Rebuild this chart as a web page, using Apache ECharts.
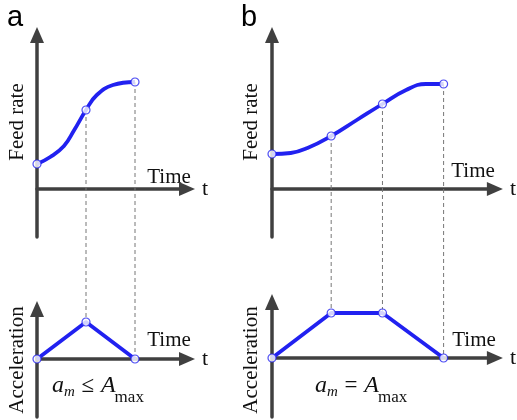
<!DOCTYPE html>
<html><head><meta charset="utf-8">
<script src="https://cdn.jsdelivr.net/npm/echarts@6/dist/echarts.min.js"></script>
<style>html,body{margin:0;padding:0;background:#fff}#c{width:517px;height:420px}</style>
</head><body><div id="c"></div>
<script>
// ---- data (arbitrary units) ----
const feedRateA = [[0,2.5],[0.27,3.2],[0.55,4.3],[0.76,5.9],[1,7.9],[1.22,9.4],[1.55,10.4],[2,10.7]];
const feedKeyA  = [[0,2.5],[1,7.9],[2,10.7]];
const accelA    = [[0,0],[1,3.7],[2,0]];
const feedRateB = [[0,3.5],[1.9,3.6],[3.6,4.1],[6.0,5.3],[8.6,6.9],[11.2,8.5],[13.6,9.9],[15.6,10.5],[17.4,10.5]];
const feedKeyB  = [[0,3.5],[6,5.3],[11.2,8.5],[17.4,10.5]];
const accelB    = [[0,0],[6,4.5],[11.2,4.5],[17.4,0]];
const panelLabels = ['a','b'];
const yNames = ['Feed rate','Acceleration'];
const xName = 't';
const timeLabel = 'Time';
const relA = ['a','m',' \u2264 ','A','max'];
const relB = ['a','m',' = ','A','max'];

const BLUE = '#2121f0';
const AX = '#404040';
const serif = '"Liberation Serif", "DejaVu Serif", serif';

const chart = echarts.init(document.getElementById('c'), null, {renderer:'canvas'});

const grids = [
  {left:37,  top:35,  width:150, height:202},
  {left:37,  top:309, width:150, height:108},
  {left:272, top:35,  width:226, height:202},
  {left:272, top:302, width:226, height:115}
];
const xRanges = [[0,150/49],[0,150/49],[0,22.6],[0,22.6]];
const yRanges = [[-4.8,15.4],[-5.8,5.0],[-4.8,15.4],[-5.9,5.6]];

function axisLine(){ return {show:true, onZero:true, symbol:['none','triangle'], symbolSize:[14,16], lineStyle:{color:AX,width:3.5}}; }

const xAxis = grids.map((g,i)=>({
  type:'value', gridIndex:i, min:xRanges[i][0], max:xRanges[i][1],
  axisLine:axisLine(), axisTick:{show:false}, axisLabel:{show:false}, splitLine:{show:false},
  name:xName, nameLocation:'end', nameGap:15,
  nameTextStyle:{fontFamily:serif, fontSize:22, color:'#111'}
}));
const yAxis = grids.map((g,i)=>({
  type:'value', gridIndex:i, min:yRanges[i][0], max:yRanges[i][1],
  axisLine:axisLine(), axisTick:{show:false}, axisLabel:{show:false}, splitLine:{show:false}
}));

function curve(data, gi){ return {type:'line', xAxisIndex:gi, yAxisIndex:gi, data, smooth:0.45, symbol:'none', lineStyle:{color:BLUE,width:3.8}, z:3}; }
function poly(data, gi){ return {type:'line', xAxisIndex:gi, yAxisIndex:gi, data, symbol:'none', lineStyle:{color:BLUE,width:3.8}, z:3}; }
function pts(data, gi){ return {type:'scatter', xAxisIndex:gi, yAxisIndex:gi, data, symbol:'circle', symbolSize:8, itemStyle:{color:'#fff',borderColor:BLUE,borderWidth:1.2}, z:5}; }

const series = [
  curve(feedRateA,0), pts(feedKeyA,0),
  poly(accelA,1), pts(accelA,1),
  curve(feedRateB,2), pts(feedKeyB,2),
  poly(accelB,3), pts(accelB,3)
];

function txt(x,y,text,size,extra){ return Object.assign({type:'text', x, y, style:{text, fontFamily:serif, fontSize:size, fill:'#111', align:'center', verticalAlign:'middle'}}, extra||{}); }

// math-style label: pieces laid out left to right with measured widths
const mctx = document.createElement('canvas').getContext('2d');
const mathStyle = [
  {size:24, italic:true,  dy:0, kern:0},
  {size:15, italic:true,  dy:3, kern:0},
  {size:23, italic:false, dy:0, kern:1},
  {size:24, italic:true,  dy:0, kern:1},
  {size:17, italic:false, dy:9, kern:-1}
];
function mathLabel(x0, base, parts){
  const out = []; let x = x0;
  parts.forEach((t,i)=>{
    const s = mathStyle[i];
    const font = (s.italic?'italic ':'') + s.size + 'px ' + serif;
    mctx.font = font;
    x += s.kern;
    out.push({type:'text', x, y: base + s.dy - 0.33*s.size,
      style:{text:t, fontFamily:serif, fontStyle:s.italic?'italic':'normal', fontSize:s.size, fill:'#111', align:'left', verticalAlign:'middle'}});
    x += mctx.measureText(t).width;
  });
  return out;
}

const baseGraphics = [
  {type:'text', x:7, y:18, style:{text:panelLabels[0], fontFamily:'"Liberation Sans", Arial, sans-serif', fontSize:29, fill:'#000', verticalAlign:'middle'}},
  {type:'text', x:241, y:18, style:{text:panelLabels[1], fontFamily:'"Liberation Sans", Arial, sans-serif', fontSize:29, fill:'#000', verticalAlign:'middle'}},
  txt(17,122,yNames[0],21,{rotation:Math.PI/2}),
  txt(251,122,yNames[0],21,{rotation:Math.PI/2}),
  txt(17,360,yNames[1],21,{rotation:Math.PI/2}),
  txt(251,360,yNames[1],21,{rotation:Math.PI/2}),
  txt(169,177,timeLabel,21),
  txt(473,171,timeLabel,21),
  txt(169,340,timeLabel,21),
  txt(474,340,timeLabel,21)
].concat(mathLabel(52, 394, relA), mathLabel(315, 394, relB));

chart.setOption({
  animation:false,
  grid:grids,
  xAxis, yAxis, series,
  graphic:baseGraphics
});

// dashed guide lines linking the feed-rate key points to the acceleration key points
const links = [
  [0, feedKeyA[1], 1, accelA[1]],
  [0, feedKeyA[2], 1, accelA[2]],
  [2, feedKeyB[1], 3, accelB[1]],
  [2, feedKeyB[2], 3, accelB[2]],
  [2, feedKeyB[3], 3, accelB[3]]
];
const dashes = links.map(([g1,p1,g2,p2])=>{
  const a = chart.convertToPixel({gridIndex:g1}, p1);
  const b = chart.convertToPixel({gridIndex:g2}, p2);
  return {type:'line', z:1, shape:{x1:a[0],y1:a[1],x2:a[0],y2:b[1]}, style:{stroke:'#777',lineWidth:1,lineDash:[4,3]}};
});
chart.setOption({graphic:baseGraphics.concat(dashes)});
</script></body></html>
